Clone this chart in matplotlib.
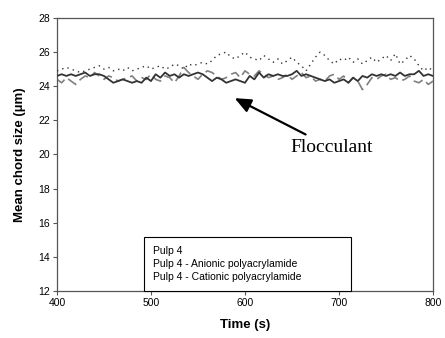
import numpy as np
import matplotlib
matplotlib.use("Agg")
import matplotlib.pyplot as plt
from matplotlib.lines import Line2D

plt.rcParams["font.family"] = ["Liberation Sans", "DejaVu Sans"]

time = np.arange(400, 801, 5)

pulp4 = [
    24.6, 24.7, 24.6, 24.7, 24.6, 24.7, 24.8, 24.6, 24.7, 24.7, 24.6,
    24.4, 24.2, 24.3, 24.4, 24.3, 24.2, 24.3, 24.2, 24.5, 24.3,
    24.7, 24.5, 24.8, 24.6, 24.7, 24.5, 24.7, 24.6, 24.7, 24.8,
    24.7, 24.5, 24.3, 24.5, 24.4, 24.2, 24.3, 24.4, 24.3, 24.2,
    24.6, 24.4, 24.8, 24.5, 24.7, 24.6, 24.7, 24.6, 24.6, 24.7,
    24.9, 24.6, 24.7, 24.6, 24.5, 24.4, 24.3, 24.4, 24.2, 24.3,
    24.4, 24.2, 24.5, 24.3, 24.6, 24.5, 24.7, 24.6, 24.7, 24.6,
    24.7, 24.6, 24.8, 24.6, 24.7, 24.7, 24.9, 24.6, 24.7, 24.6,
]

anionic = [
    24.9, 25.0, 25.1, 25.0, 24.9, 24.8, 24.9, 25.0, 25.1, 25.2, 25.0,
    25.1, 24.9, 25.0, 24.9, 25.1, 24.9, 25.0, 25.1, 25.2, 25.0,
    25.1, 25.2, 25.0, 25.1, 25.3, 25.2, 25.0, 25.3, 25.2, 25.3,
    25.4, 25.3, 25.5, 25.8, 25.9, 26.0, 25.7, 25.6, 25.8, 26.0,
    25.7, 25.6, 25.5, 25.8, 25.6, 25.4, 25.6, 25.3, 25.5, 25.7,
    25.4, 25.2, 24.9, 25.3, 25.7, 26.0, 25.8, 25.5, 25.3, 25.6,
    25.5, 25.7, 25.4, 25.6, 25.3, 25.5, 25.7, 25.4, 25.6, 25.8,
    25.5, 25.9, 25.3, 25.5, 25.8, 25.6, 25.2, 24.9, 25.1, 24.9,
]

cationic = [
    24.4, 24.2, 24.5, 24.3, 24.1, 24.4, 24.6, 24.5, 24.8, 24.6, 24.4,
    24.6, 24.5, 24.3, 24.4, 24.5, 24.6, 24.3, 24.5, 24.4, 24.7,
    24.4, 24.3, 24.6, 24.5, 24.2, 24.6, 25.1, 24.8, 24.6, 24.4,
    24.7, 24.9, 24.8, 24.6, 24.4, 24.5, 24.7, 24.8, 24.5, 24.9,
    24.7, 24.6, 24.9, 24.7, 24.5, 24.6, 24.4, 24.5, 24.7, 24.4,
    24.6, 24.8, 24.5, 24.6, 24.3, 24.4, 24.3, 24.6, 24.7, 24.4,
    24.6, 24.2, 24.5, 24.3, 23.8, 24.1, 24.5, 24.4, 24.6, 24.7,
    24.4, 24.5, 24.3, 24.4, 24.6, 24.3, 24.2, 24.4, 24.1, 24.3,
]

labels = [
    "Pulp 4",
    "Pulp 4 - Anionic polyacrylamide",
    "Pulp 4 - Cationic polyacrylamide",
]

fig = plt.figure(figsize=(4.45, 3.38), dpi=100)
ax = fig.add_axes([0.128, 0.139, 0.845, 0.808])

ax.plot(time, cationic, color="#808080", lw=1.2, dashes=(6, 3), zorder=2)
ax.plot(time, anionic, color="#333333", lw=1.0, ls=(0, (1, 3)), zorder=3)
ax.plot(time, pulp4, color="#333333", lw=1.3, zorder=4)

ax.set_xlim(400, 800)
ax.set_ylim(12, 28)
ax.set_xticks([400, 500, 600, 700, 800])
ax.set_yticks(range(12, 29, 2))
ax.tick_params(direction="out", length=3, width=0.8, labelsize=7.5,
               color="#555555", pad=2)

for s in ax.spines.values():
    s.set_color("#555555")
    s.set_linewidth(0.9)

ax.set_xlabel("Time (s)", fontsize=9.5, fontweight="bold", labelpad=8)
ax.set_ylabel("Mean chord size (\u00b5m)", fontsize=9.5, fontweight="bold",
              labelpad=9)

ax.annotate(
    "Flocculant",
    xy=(589, 23.3),
    xytext=(648, 20.4),
    fontsize=14,
    family=["Liberation Serif", "DejaVu Serif"],
    va="center",
    arrowprops=dict(arrowstyle="-|>,head_length=0.7,head_width=0.3",
                    color="black", lw=1.6, shrinkA=3, shrinkB=0),
)

handles = [Line2D([], [], lw=0) for _ in labels]
leg = ax.legend(
    handles, labels,
    loc="lower left",
    bbox_to_anchor=(0.231, 0.0, 0.551, 0.194),
    mode="expand",
    handlelength=0,
    handletextpad=0,
    fontsize=7.5,
    frameon=True,
    fancybox=False,
    framealpha=1,
    edgecolor="black",
    borderpad=0.9,
    labelspacing=0.25,
    borderaxespad=0,
)
leg.get_frame().set_linewidth(0.8)

fig.savefig("out.png", dpi=100)
